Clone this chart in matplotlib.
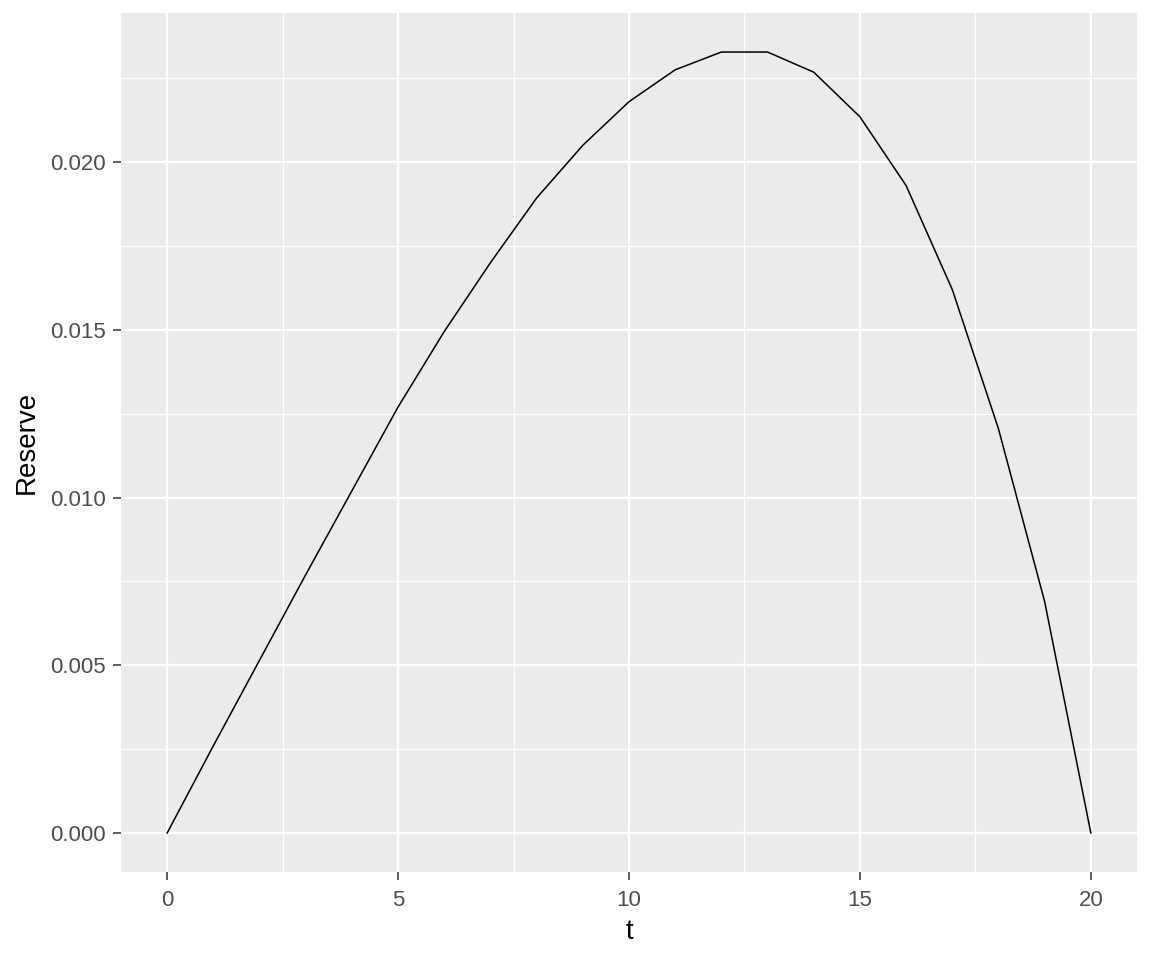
import matplotlib
matplotlib.use("Agg")
import matplotlib.pyplot as plt
from matplotlib.ticker import FixedLocator, FormatStrFormatter

t = list(range(21))
reserve = [0.0, 0.00260, 0.00515, 0.00770, 0.01020, 0.01270, 0.01495, 0.01700,
           0.01893, 0.02050, 0.02180, 0.02275, 0.02328, 0.02328, 0.02268, 0.02135,
           0.01930, 0.01620, 0.01205, 0.00690, 0.0]
x_ticks = [0, 5, 10, 15, 20]
x_minor = [2.5, 7.5, 12.5, 17.5]
y_ticks = [0.000, 0.005, 0.010, 0.015, 0.020]
y_minor = [0.0025, 0.0075, 0.0125, 0.0175, 0.0225]

plt.rcParams['font.family'] = ['Liberation Sans', 'DejaVu Sans']

fig = plt.figure(figsize=(11.52, 9.6), dpi=100)
ax = fig.add_axes([121/1152, 1 - 872/960, (1137-121)/1152, (872-13)/960])
ax.set_facecolor('#EBEBEB')

ax.plot(t, reserve, color='black', linewidth=1.1, zorder=3)

xr = 20 * 0.05
ymax = max(reserve)
yr = ymax * 0.05
ax.set_xlim(0 - xr, 20 + xr)
ax.set_ylim(0 - yr, ymax + yr)

ax.xaxis.set_major_locator(FixedLocator(x_ticks))
ax.xaxis.set_minor_locator(FixedLocator(x_minor))
ax.yaxis.set_major_locator(FixedLocator(y_ticks))
ax.yaxis.set_minor_locator(FixedLocator(y_minor))
ax.yaxis.set_major_formatter(FormatStrFormatter('%.3f'))

ax.grid(which='major', color='white', linewidth=1.6, zorder=1)
ax.grid(which='minor', color='white', linewidth=0.8, zorder=1)
ax.set_axisbelow(True)

for s in ax.spines.values():
    s.set_visible(False)

ax.tick_params(which='major', length=5.5, width=1.1, color='#333333',
               labelsize=16, labelcolor='#4D4D4D', pad=5.5)
ax.tick_params(axis='x', which='major', pad=7.5)
ax.tick_params(which='minor', length=0)

ax.set_xlabel('t', fontsize=20, color='black', labelpad=6)
ax.set_ylabel('Reserve', fontsize=20, color='black', labelpad=7)

fig.savefig('out.png', dpi=100, facecolor='white')
